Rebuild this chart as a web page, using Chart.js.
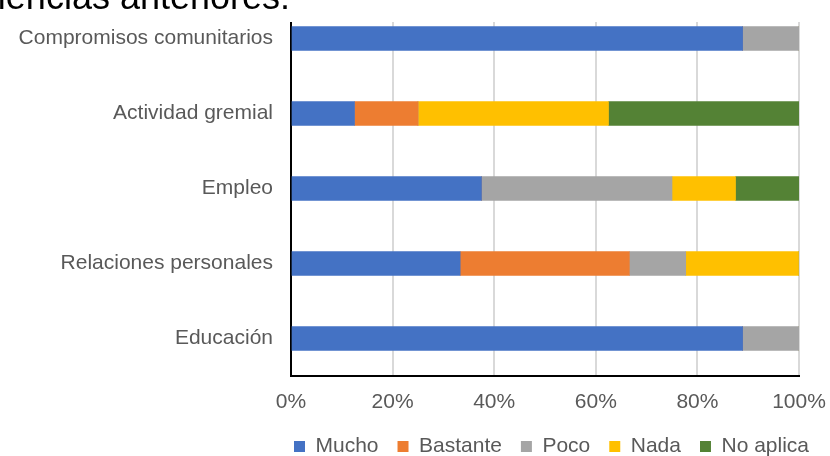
<!DOCTYPE html>
<html>
<head>
<meta charset="utf-8">
<script src="https://cdn.jsdelivr.net/npm/chart.js@4"></script>
<style>
  html, body { margin: 0; padding: 0; background: #fff; overflow: hidden; }
  #wrap { position: relative; width: 830px; height: 456px; overflow: hidden; }
  #titulo {
    position: absolute; right: 540px; top: -21px;
    font-family: 'Liberation Sans', Arial, sans-serif; font-size: 36px; line-height: 36px;
    color: #000; white-space: nowrap; z-index: 2;
  }
  canvas { position: absolute; left: 0; top: 0; }
</style>
</head>
<body>
<div id="wrap">
  <div id="titulo">Experiencias anteriores:</div>
  <canvas id="chart" width="830" height="456"></canvas>
</div>
<script>
  const categories = ['Compromisos comunitarios', 'Actividad gremial', 'Empleo', 'Relaciones personales', 'Educación'];
  const mucho    = [88.9, 12.5, 37.5, 33.3, 88.9];
  const bastante = [0, 12.5, 0, 33.3, 0];
  const poco     = [11.1, 0, 37.5, 11.1, 11.1];
  const nada     = [0, 37.5, 12.5, 22.2, 0];
  const noAplica = [0, 37.5, 12.5, 0, 0];
  const xTicks   = [0, 20, 40, 60, 80, 100];

  const font = { family: "'Liberation Sans', Arial, sans-serif", size: 21 };
  const grey = '#595959';

  // the block above the plot hides the top of the axis and grid
  const topCover = {
    id: 'topCover',
    beforeDatasetsDraw(chart) {
      const { ctx, chartArea } = chart;
      ctx.save();
      ctx.fillStyle = '#fff';
      ctx.fillRect(chartArea.left - 3, 0, chartArea.width + 6, 22);
      ctx.restore();
    }
  };

  // legend sits under the plot, not in the middle of the page
  const legendShift = {
    id: 'legendShift',
    afterLayout(chart) {
      const lg = chart.legend;
      lg.left += 147;
      lg.right += 147;
    }
  };

  function series(label, data, color) {
    return {
      label: label,
      data: data,
      backgroundColor: color,
      borderWidth: 0,
      barThickness: 24
    };
  }

  new Chart(document.getElementById('chart'), {
    type: 'bar',
    data: {
      labels: categories,
      datasets: [
        series('Mucho', mucho, '#4472C4'),
        series('Bastante', bastante, '#ED7D31'),
        series('Poco', poco, '#A5A5A5'),
        series('Nada', nada, '#FFC000'),
        series('No aplica', noAplica, '#548235')
      ]
    },
    options: {
      indexAxis: 'y',
      responsive: false,
      animation: false,
      layout: { padding: { top: 1, left: 10, right: 31, bottom: -11 } },
      scales: {
        x: {
          stacked: true,
          min: 0,
          max: 100,
          afterBuildTicks(s) { s.ticks = xTicks.map(v => ({ value: v })); },
          afterFit(s) { s.height = 41; s.paddingLeft = 0; s.paddingRight = 0; },
          ticks: {
            callback: v => v + '%',
            color: grey,
            font: font,
            padding: 14,
            maxRotation: 0
          },
          grid: { color: '#d9d9d9', lineWidth: 2, drawTicks: false },
          border: { color: '#000', width: 2 }
        },
        y: {
          stacked: true,
          afterFit(s) { s.width = 281; s.paddingTop = 0; s.paddingBottom = 0; },
          ticks: { color: grey, font: font, padding: 18 },
          grid: { display: false, drawTicks: false },
          border: { color: '#000', width: 2 }
        }
      },
      plugins: {
        legend: {
          position: 'bottom',
          labels: {
            color: grey,
            font: font,
            boxWidth: 11,
            boxHeight: 11,
            padding: 19
          }
        },
        tooltip: { enabled: false }
      }
    },
    plugins: [topCover, legendShift]
  });
</script>
</body>
</html>
